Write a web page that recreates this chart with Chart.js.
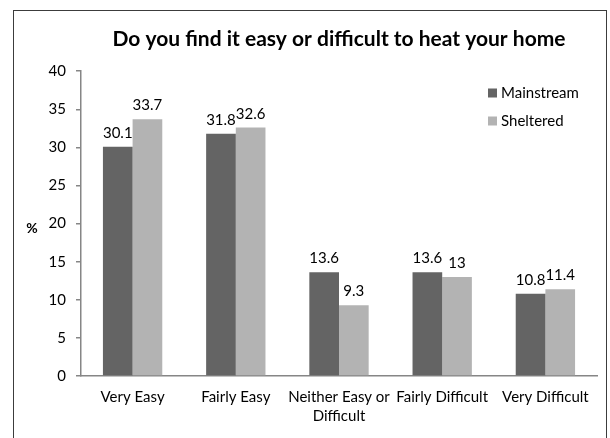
<!DOCTYPE html>
<html>
<head>
<meta charset="utf-8">
<script src="https://cdn.jsdelivr.net/npm/chart.js@4"></script>
<style>
  body { margin: 0; background: #fff; }
  #frame { position: absolute; left: 13px; top: 10px; width: 592px; height: 440px; border: 1px solid #3c3c3c; }
  #wrap { position: absolute; left: 0; top: 0; width: 610px; height: 438px; }
</style>
</head>
<body>
<div id="frame"></div>
<div id="wrap"><canvas id="grafico1" width="610" height="438"></canvas></div>
<script>
const categories = ['Very Easy', 'Fairly Easy', ['Neither Easy or', 'Difficult'], 'Fairly Difficult', 'Very Difficult'];
const seriesNames = ['Mainstream', 'Sheltered'];
const mainstream = [30.1, 31.8, 13.6, 13.6, 10.8];
const sheltered = [33.7, 32.6, 9.3, 13, 11.4];
const seriesColors = ['#646464', '#b3b3b3'];

const fontFamily = 'Lato, "Open Sans", sans-serif';
const ctx = document.getElementById('grafico1');

// value labels above each bar
const valueLabels = {
    id: 'valueLabels',
    afterDatasetsDraw(chart) {
        const c = chart.ctx;
        c.save();
        c.font = '15px ' + fontFamily;
        c.fillStyle = '#000';
        c.textAlign = 'center';
        c.textBaseline = 'alphabetic';
        chart.data.datasets.forEach((ds, i) => {
            chart.getDatasetMeta(i).data.forEach((bar, j) => {
                c.fillText(String(ds.data[j]), bar.x, bar.y - 9);
            });
        });
        c.restore();
    }
};

// legend on the right + "%" axis name
const sideLegend = {
    id: 'sideLegend',
    afterDraw(chart) {
        const c = chart.ctx;
        c.save();
        c.font = '15px ' + fontFamily;
        c.textBaseline = 'middle';
        c.textAlign = 'left';
        chart.data.datasets.forEach((ds, i) => {
            const y = 93 + i * 28;
            c.fillStyle = ds.backgroundColor;
            c.fillRect(488, y - 4.5, 9, 9);
            c.fillStyle = '#000';
            c.fillText(ds.label, 501, y);
        });
        c.font = 'bold 14px ' + fontFamily;
        c.textAlign = 'center';
        c.fillText('%', 32, 228);
        c.restore();
    }
};

new Chart(ctx, {
    type: 'bar',
    data: {
        labels: categories,
        datasets: [{
            label: seriesNames[0],
            data: mainstream,
            backgroundColor: seriesColors[0]
        }, {
            label: seriesNames[1],
            data: sheltered,
            backgroundColor: seriesColors[1]
        }]
    },
    options: {
        responsive: false,
        animation: false,
        events: [],
        layout: { padding: { left: 0, right: 13, top: 0, bottom: 0 } },
        datasets: {
            bar: { categoryPercentage: 0.575, barPercentage: 1 }
        },
        plugins: {
            legend: { display: false },
            tooltip: { enabled: false },
            title: {
                display: true,
                text: 'Do you find it easy or difficult to heat your home',
                color: '#000',
                fullSize: false,
                font: { family: fontFamily, size: 21, weight: 'bold', lineHeight: 1.2 },
                padding: { top: 27, bottom: 19 }
            }
        },
        scales: {
            x: {
                grid: { display: false },
                border: { display: true, color: '#868686', width: 1.5 },
                ticks: {
                    color: '#000',
                    padding: 4,
                    autoSkip: false,
                    maxRotation: 0,
                    font: { family: fontFamily, size: 15, lineHeight: 1.27 }
                },
                afterFit(scale) { scale.height = 62; }
            },
            y: {
                min: 0,
                max: 40,
                ticks: {
                    stepSize: 5,
                    color: '#000',
                    padding: 10,
                    font: { family: fontFamily, size: 15 }
                },
                grid: {
                    drawOnChartArea: false,
                    drawTicks: true,
                    tickLength: 5,
                    color: '#868686',
                    lineWidth: 1.5
                },
                border: { display: true, color: '#868686', width: 1.5 },
                afterFit(scale) { scale.width = 81; }
            }
        }
    },
    plugins: [valueLabels, sideLegend]
});
</script>
</body>
</html>
